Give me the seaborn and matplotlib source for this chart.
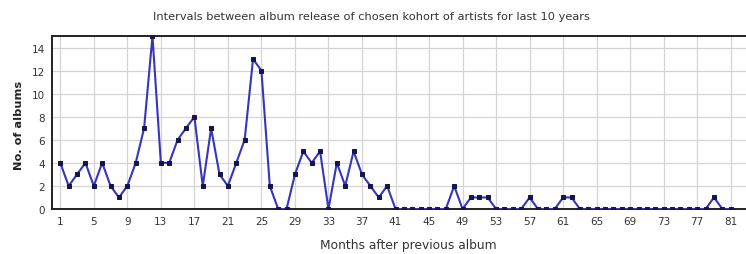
import matplotlib
matplotlib.use("Agg")
import matplotlib.pyplot as plt
import seaborn as sns
import pandas as pd

months = list(range(1, 82))
albums = [4, 2, 3, 4, 2, 4, 2, 1, 2, 4,
          7, 15, 4, 4, 6, 7, 8, 2, 7, 3,
          2, 4, 6, 13, 12, 2, 0, 0, 3, 5,
          4, 5, 0, 4, 2, 5, 3, 2, 1, 2,
          0, 0, 0, 0, 0, 0, 0, 2, 0, 1,
          1, 1, 0, 0, 0, 0, 1, 0, 0, 0,
          1, 1, 0, 0, 0, 0, 0, 0, 0, 0,
          0, 0, 0, 0, 0, 0, 0, 0, 1, 0,
          0]
x_ticks = list(range(1, 82, 4))
y_ticks = list(range(0, 15, 2))

title = "Intervals between album release of chosen kohort of artists for last 10 years"
xlabel = "Months after previous album"
ylabel = "No. of albums"

df = pd.DataFrame({"month": months, "albums": albums})

sns.set_theme(style="white")
plt.rcParams['font.family'] = ['DejaVu Sans']

fig = plt.figure(figsize=(7.46, 2.55), dpi=100)
ax = fig.add_axes([51.9 / 746, 1 - 210 / 255, 695.6 / 746, 173 / 255])

sns.lineplot(data=df, x="month", y="albums", ax=ax, color="#3535c0",
             linewidth=1.5, marker="s", markersize=2.2,
             markerfacecolor="#15154a", markeredgecolor="#15154a", zorder=3)

ax.set_xlim(0, 83)
ax.set_ylim(0, 15)
ax.set_xticks(x_ticks)
ax.set_yticks(y_ticks)
ax.grid(True, color="#d4d4d4", linewidth=0.9)
ax.tick_params(axis="both", length=0, labelsize=7.5, colors="#333333", pad=5)
for s in ax.spines.values():
    s.set_color("#222222")
    s.set_linewidth(1.4)

fig.text(371 / 746, 1 - 17 / 255, title, fontsize=8.2, color="#333333",
         ha="center", va="center")
ax.set_xlabel(xlabel, fontsize=8.8, color="#333333")
ax.xaxis.set_label_coords((408 - 51.9) / 695.6, -0.165)
ax.set_ylabel(ylabel, fontsize=8.2, color="#222222", fontweight="bold")
ax.yaxis.set_label_coords(-0.040, 0.49)

fig.savefig("out.png", dpi=100)
